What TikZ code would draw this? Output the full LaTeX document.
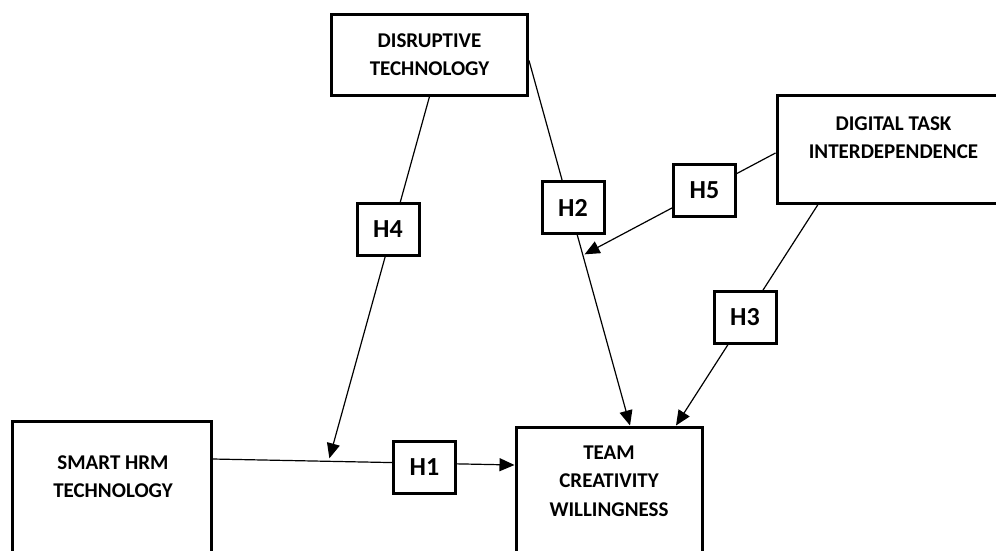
\documentclass[tikz,border=0pt]{standalone}
\usepackage{fontspec}
\setmainfont{Carlito}
\usetikzlibrary{calc,arrows.meta}

\begin{document}
\begin{tikzpicture}[x=1pt,y=-1pt,
    varbox/.style={draw,line width=3pt,inner sep=0pt},
    vartext/.style={align=center,font=\fontsize{21}{28.5}\selectfont\bfseries},
    hypbox/.style={draw,line width=3pt,fill=white,minimum width=62pt,
      minimum height=52pt,inner sep=0pt,font=\fontsize{26}{30}\selectfont\bfseries},
    link/.style={line width=1.2pt},
    arrow/.style={link,-{Triangle[length=15pt,width=13pt]}}]
  \useasboundingbox (0,0) rectangle (996,550);
  % variables
  \node[varbox,minimum width=196pt,minimum height=81pt] (dis) at (429.5,54.5) {};
  \node[varbox,minimum width=233pt,minimum height=108pt] (dig) at (893.5,149) {};
  \node[varbox,minimum width=199pt,minimum height=135pt] (smart) at (111.5,488.5) {};
  \node[varbox,minimum width=186pt,minimum height=129pt] (team) at (609,491.5) {};
  \node[vartext] (dis-txt) at (dis.center) {DISRUPTIVE\\TECHNOLOGY};
  \node[vartext] (dig-txt) at ([yshift=11.5pt]dig.center) {DIGITAL TASK\\INTERDEPENDENCE};
  \node[vartext] (smart-txt) at ([yshift=12pt,xshift=1.5pt]smart.center) {SMART HRM\\TECHNOLOGY};
  \node[vartext] (team-txt) at ([yshift=10.5pt]team.center) {TEAM\\CREATIVITY\\WILLINGNESS};
  % end points
  \coordinate (s1) at ([yshift=29.5pt]smart.east);
  \coordinate (t1) at ([yshift=26.5pt]team.west);
  \coordinate (h4tip) at ($(s1)!0.387!(t1)+(0,-3)$);
  \coordinate (d1) at ([yshift=-6pt]dis.east);
  \coordinate (t2) at ([xshift=21pt]team.north);
  \coordinate (h5tip) at ($(d1)!0.531!(t2)+(2,0)$);
  \coordinate (g1) at ([yshift=-4pt]dig.west);
  \coordinate (g2) at ([xshift=-75.5pt]dig.south);
  \coordinate (t3) at ([xshift=67pt]team.north);
  % paths
  \draw[arrow] (s1) -- (t1);
  \draw[arrow] (dis.south) -- (h4tip);
  \draw[arrow] (d1) -- (t2);
  \draw[arrow] (g1) -- (h5tip);
  \draw[arrow] (g2) -- (t3);
  % hypotheses
  \node[hypbox] (h1) at (424.5,467.5) {H1};
  \node[hypbox] (h2) at (573,207.5) {H2};
  \node[hypbox] (h3) at (745,317.5) {H3};
  \node[hypbox] (h4) at (388,229) {H4};
  \node[hypbox] (h5) at (704.5,190.5) {H5};
\end{tikzpicture}
\end{document}
